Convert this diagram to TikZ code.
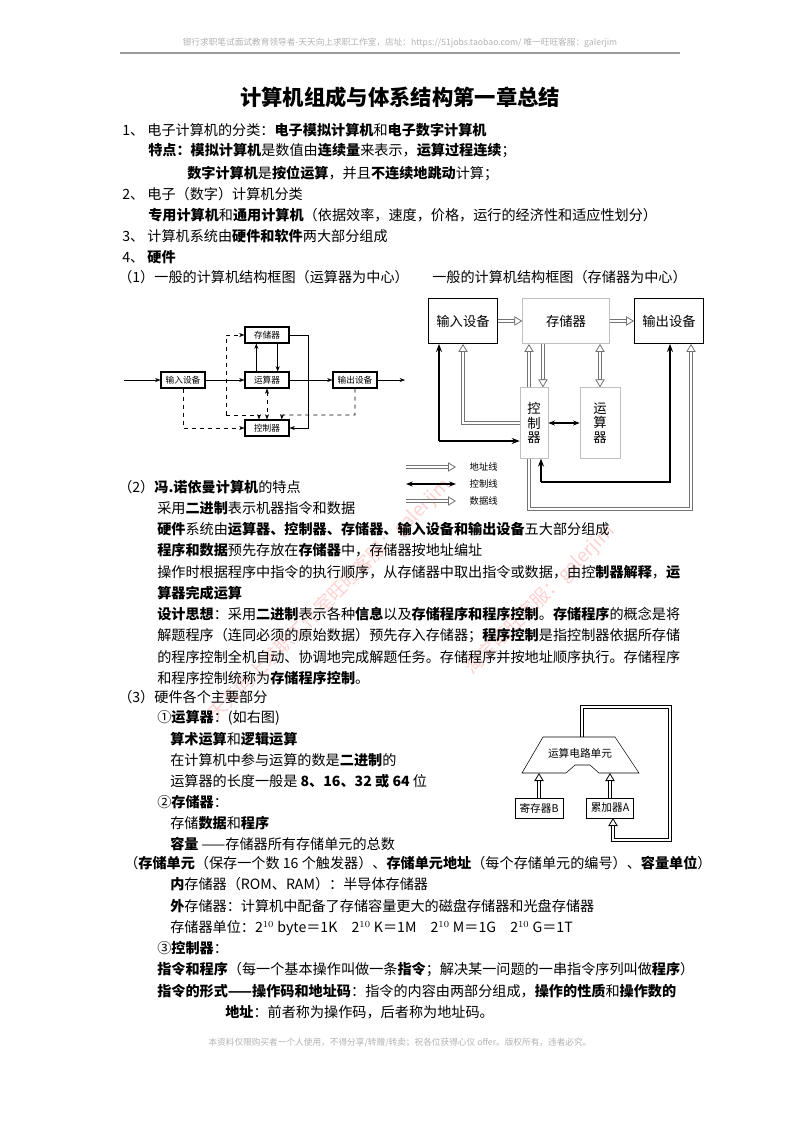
\documentclass[tikz,border=0pt]{standalone}
\usepackage{fontspec}
\setmainfont{Noto Sans CJK SC}
\usetikzlibrary{arrows.meta,shapes.geometric}
\newcommand\bb[1]{\textbf{#1}}
\tikzset{htip/.tip={Triangle[open,length=6pt,width=7pt,line width=0.6pt]}}
\begin{document}
\begin{tikzpicture}[x=0.75pt,y=-0.75pt,
  t/.style={anchor=west,inner sep=0pt,font=\fontsize{10.6}{12}\selectfont},
  bx/.style={draw,thick,minimum width=33pt,minimum height=12pt,inner sep=0pt,font=\fontsize{6.5}{7}\selectfont},
  rb/.style={draw,minimum width=52pt,minimum height=34pt,inner sep=0pt,font=\fontsize{10}{11}\selectfont},
  ar/.style={-{Stealth[length=4pt]}},
  da/.style={dashed,-{Stealth[length=4pt]}},
  hline/.style={draw=#1,line width=3.4pt,postaction={draw=white,line width=2.2pt,-,shorten >=6pt}},
  hol/.style={hline=black!55,-htip},
  holk/.style={hline=black,-htip},
  hol2/.style={draw=black!55,line width=3.4pt,htip-htip,postaction={draw=white,line width=2.2pt,-,shorten >=6pt,shorten <=6pt}},
  blk/.style={very thick,-{Stealth[length=6pt]}},
  wm/.style={text=red!18,rotate=45,font=\fontsize{14}{14}\selectfont}]
\useasboundingbox (0,0) rectangle (800,1132);
% watermarks
\node[wm] (w1) at (330,600) {天天向上求职工作室旺旺客服：galerjim};
\node[wm] (w2) at (540,600) {淘宝旺旺客服：galerjim};
% header
\node[font=\fontsize{6.5}{7}\selectfont,text=gray!60] (hd) at (400,43) {银行求职笔试面试教育领导者-天天向上求职工作室，店址：https://51jobs.taobao.com/ 唯一旺旺客服：galerjim};
\draw[gray!80,line width=1.5pt] (120,53) -- (680,53);
\node[font=\fontsize{6.5}{7}\selectfont,text=gray!60] (ft) at (400,1043) {本资料仅限购买者一个人使用，不得分享/转赠/转卖；祝各位获得心仪 offer。版权所有，违者必究。};
% title
\node[font=\bfseries\fontsize{16}{18}\selectfont] (title) at (400,97) {计算机组成与体系结构第一章总结};
\node[t] (l1) at (122,130) {1、 电子计算机的分类：\bb{电子模拟计算机}和\bb{电子数字计算机}};
\node[t] (l2) at (148,151) {\bb{特点：模拟计算机}是数值由\bb{连续量}来表示，\bb{运算过程连续}；};
\node[t] (l3) at (187,173) {\bb{数字计算机}是\bb{按位运算}，并且\bb{不连续地跳动}计算；};
\node[t] (l4) at (122,194) {2、 电子（数字）计算机分类};
\node[t] (l5) at (148,215) {\bb{专用计算机}和\bb{通用计算机}（依据效率，速度，价格，运行的经济性和适应性划分）};
\node[t] (l6) at (122,236) {3、 计算机系统由\bb{硬件和软件}两大部分组成};
\node[t] (l7) at (122,257) {4、 \bb{硬件}};
\node[t] (l8) at (118,277) {（1）一般的计算机结构框图（运算器为中心）};
\node[t] (l8b) at (432,277) {一般的计算机结构框图（存储器为中心）};
% left diagram
\node[bx] (cc) at (267,335) {存储器};
\node[bx] (in) at (183,380) {输入设备};
\node[bx] (al) at (267,380) {运算器};
\node[bx] (out) at (355,380) {输出设备};
\node[bx] (ct) at (267,428) {控制器};
\coordinate (s0) at (124,380); \coordinate (e0) at (405,380);
\draw[ar] (s0) -- (in); \draw[ar] (in) -- (al); \draw[ar] (al) -- (out); \draw[ar] (out) -- (e0);
\draw[ar] ([xshift=8pt]cc.south) -- ([xshift=8pt]al.north);
\draw[ar] ([xshift=-8pt]al.north) -- ([xshift=-8pt]cc.south);
\draw[ar] (cc.east) -| (308,428) -- (ct.east);
\draw[da] (226,415) -- (226,335) -- (cc.west);
\draw[da] (226,415) -| ([xshift=-6pt]ct.north);
\draw[da] (in.south) |- (ct.west);
\draw[da] (out.south) |- (282,415) -- ([xshift=11pt]ct.north);
\draw[dashed,{Stealth[length=4pt]}-{Stealth[length=4pt]}] (al.south) -- (ct.north);
% right diagram
\node[rb] (rin) at (463,321) {输入设备};
\node[rb,draw=gray!50,minimum width=65pt] (rcc) at (566,321) {存储器};
\node[rb] (rout) at (669,321) {输出设备};
\node[rb,draw=gray!50,minimum width=21pt,minimum height=53pt,align=center] (rct) at (534,423) {控\\制\\器};
\node[rb,draw=gray!50,minimum width=30pt,minimum height=53pt,align=center] (ral) at (600,423) {运\\算\\器};
\draw[hol] (rin) -- (rcc); \draw[hol] (rcc) -- (rout);
\draw[hol2] (rcc.south -| 600,0) -- (ral.north);
\draw[hol] (rct.north -| 529,0) -- (rcc.south -| 529,0);
\draw[hol] (rcc.south -| 543,0) -- (rct.north -| 543,0);
\draw[hol] (rct.west |- 0,423) -| (rin.south -| 463,0);
\draw[hol] (rct.south -| 529,0) |- (691,509) -- (rout.south -| 691,0);
\coordinate (bl) at (439,441);
\draw[blk] (bl) -- (rct.west |- bl);
\draw[blk] (bl) -- (rin.south -| bl);
\coordinate (bb1) at (541,482); \coordinate (bb2) at (670,482);
\draw[blk] (bb1) -- (rct.south -| bb1);
\draw[blk] (bb1) -- (bb2) -- (rout.south -| bb2);
\draw[very thick,{Stealth[length=5pt]}-{Stealth[length=5pt]}] (rct.east) -- (ral.west);
% legend
\coordinate (la) at (406,467); \coordinate (lb) at (456,467);
\draw[hol] (la) -- (lb);
\node[font=\fontsize{7}{8}\selectfont,anchor=west] (ta) at (465,467) {地址线};
\coordinate (lc) at (406,484); \coordinate (ld) at (456,484);
\draw[very thick,{Stealth[length=5pt]}-{Stealth[length=5pt]}] (lc) -- (ld);
\node[font=\fontsize{7}{8}\selectfont,anchor=west] (tb) at (465,484) {控制线};
\coordinate (le) at (406,501); \coordinate (lf) at (456,501);
\draw[hol] (le) -- (lf);
\node[font=\fontsize{7}{8}\selectfont,anchor=west] (tc) at (465,501) {数据线};
% section 2
\node[t] (m1) at (118,487) {（2）\bb{冯.诺依曼计算机}的特点};
\node[t] (m2) at (157,508) {采用\bb{二进制}表示机器指令和数据};
\node[t] (m3) at (157,529) {\bb{硬件}系统由\bb{运算器、控制器、存储器、输入设备和输出设备}五大部分组成};
\node[t] (m4) at (157,550) {\bb{程序和数据}预先存放在\bb{存储器}中，存储器按地址编址};
\node[t] (m5) at (157,572) {操作时根据程序中指令的执行顺序，从存储器中取出指令或数据，由控\bb{制器解释}，\bb{运}};
\node[t] (m6) at (157,593) {\bb{算器完成运算}};
\node[t] (m7) at (157,614) {\bb{设计思想}：采用\bb{二进制}表示各种\bb{信息}以及\bb{存储程序和程序控制}。\bb{存储程序}的概念是将};
\node[t] (m8) at (157,636) {解题程序（连同必须的原始数据）预先存入存储器；\bb{程序控制}是指控制器依据所存储};
\node[t] (m9) at (157,657) {的程序控制全机自动、协调地完成解题任务。存储程序并按地址顺序执行。存储程序};
\node[t] (m10) at (157,678) {和程序控制统称为\bb{存储程序控制}。};
% section 3
\node[t] (n1) at (118,697) {（3）硬件各个主要部分};
\node[t] (n2) at (157,718) {①\bb{运算器}：(如右图)};
\node[t] (n3) at (170,739) {\bb{算术运算}和\bb{逻辑运算}};
\node[t] (n4) at (170,760) {在计算机中参与运算的数是\bb{二进制}的};
\node[t] (n5) at (170,781) {运算器的长度一般是 \bb{8、16、32 或 64} 位};
\node[t] (n6) at (157,802) {②\bb{存储器}：};
\node[t] (n7) at (170,823) {存储\bb{数据}和\bb{程序}};
\node[t] (n8) at (170,844) {\bb{容量} ——存储器所有存储单元的总数};
\node[t] (n9) at (124,863) {（\bb{存储单元}（保存一个数 16 个触发器）、\bb{存储单元地址}（每个存储单元的编号）、\bb{容量单位}）};
\node[t] (n10) at (170,884) {\bb{内}存储器（ROM、RAM）：半导体存储器};
\node[t] (n11) at (170,906) {\bb{外}存储器：计算机中配备了存储容量更大的磁盘存储器和光盘存储器};
\node[t] (n12) at (170,928) {存储器单位：2$^{10}$ byte＝1K\quad 2$^{10}$ K＝1M\quad 2$^{10}$ M＝1G\quad 2$^{10}$ G＝1T};
\node[t] (n13) at (157,948) {③\bb{控制器}：};
\node[t] (n14) at (157,969) {\bb{指令和程序}（每一个基本操作叫做一条\bb{指令}；解决某一问题的一串指令序列叫做\bb{程序}）};
\node[t] (n15) at (157,991) {\bb{指令的形式——操作码和地址码}：指令的内容由两部分组成，\bb{操作的性质}和\bb{操作数的}};
\node[t] (n16) at (225,1012) {\bb{地址}：前者称为操作码，后者称为地址码。};
% ALU figure
\coordinate (f1) at (582,737); \coordinate (f2) at (582,707); \coordinate (f3) at (670,707);
\coordinate (f4) at (670,840); \coordinate (f5) at (613,840); \coordinate (f6) at (613,818);
\draw[holk] (f1) -- (f2) -- (f3) -- (f4) -- (f5) -- (f6);
\filldraw[fill=white] (522,773) -- (566,773) -- (575,765) -- (590,765) -- (599,773) -- (639,773) -- (615,737) -- (543,737) -- cycle;
\node[font=\fontsize{8}{9}\selectfont] (alu) at (580,753) {运算电路单元};
\node[draw,minimum width=36pt,minimum height=15pt,inner sep=0pt,font=\fontsize{8}{9}\selectfont] (rb) at (539,808) {寄存器B};
\node[draw,minimum width=35pt,minimum height=15pt,inner sep=0pt,font=\fontsize{8}{9}\selectfont] (ra) at (610,808) {累加器A};
\coordinate (ub) at (539,773); \coordinate (ua) at (610,773);
\draw[holk] (rb.north) -- (ub);
\draw[holk] (ra.north) -- (ua);
\end{tikzpicture}
\end{document}
